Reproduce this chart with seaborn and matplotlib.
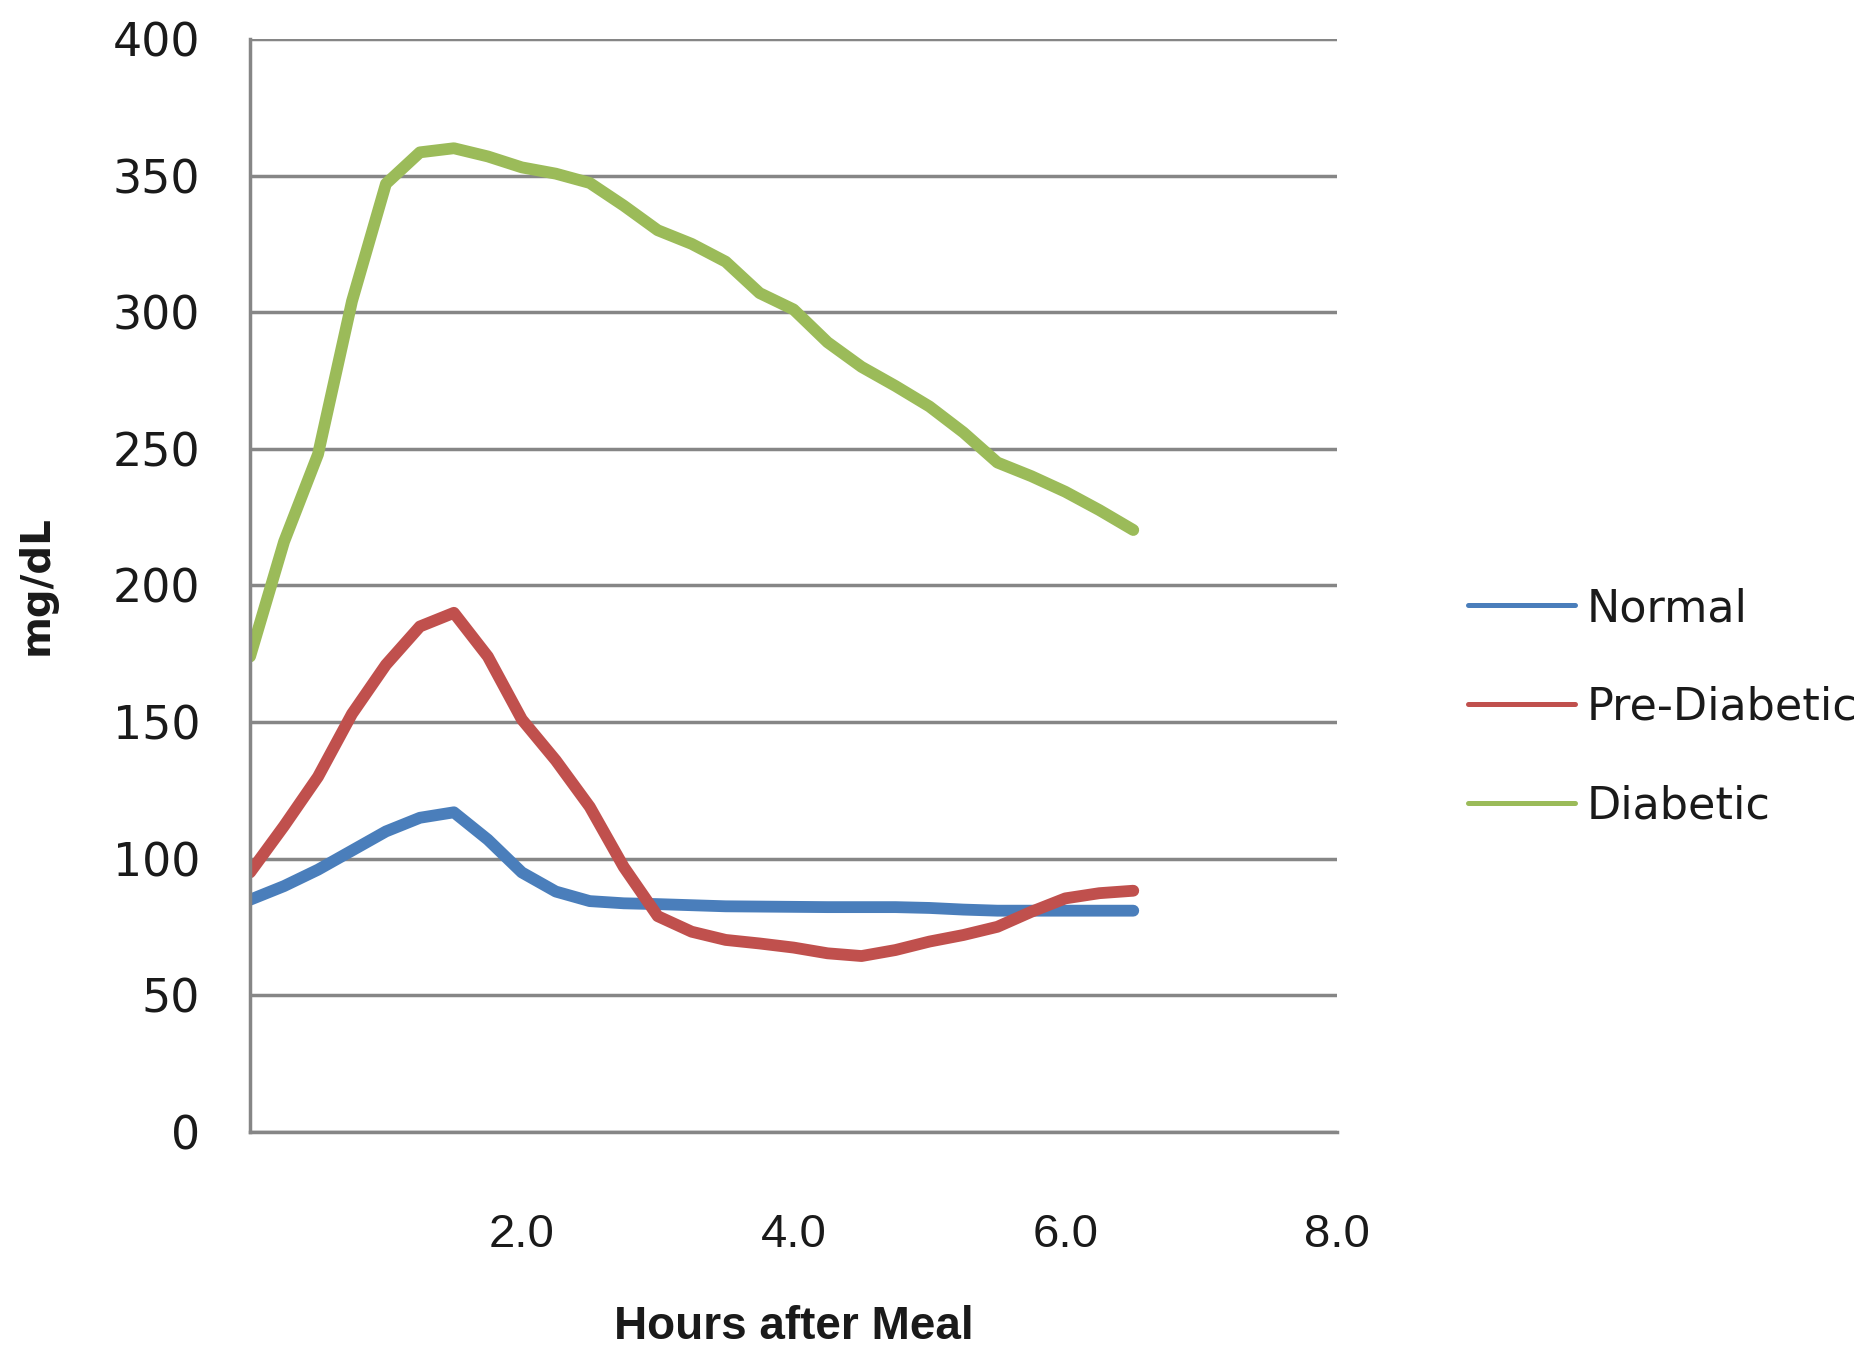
import numpy as np
import pandas as pd
import matplotlib
matplotlib.use("Agg")
import matplotlib.pyplot as plt
import seaborn as sns

# values (mg/dL every quarter hour)
hours = [0.0, 0.25, 0.5, 0.75, 1.0, 1.25, 1.5, 1.75, 2.0, 2.25, 2.5, 2.75, 3.0, 3.25,
         3.5, 3.75, 4.0, 4.25, 4.5, 4.75, 5.0, 5.25, 5.5, 5.75, 6.0, 6.25, 6.5]
normal = [85, 90, 96, 103, 110, 115, 117, 107, 95, 88, 84.5, 83.7, 83.4, 83,
          82.6, 82.5, 82.4, 82.3, 82.3, 82.3, 82, 81.4, 81, 81, 81, 81, 81]
pre_diabetic = [95, 112, 130, 153, 171, 185, 190, 174, 151, 136, 119, 97, 79, 73.3,
                70.3, 69, 67.5, 65.4, 64.4, 66.6, 69.7, 72.1, 75.1, 80.6, 85.5, 87.4, 88.3]
diabetic = [174, 216, 248, 304, 347, 358.5, 360, 357, 353, 350.7, 347.3, 339, 330, 325,
            318.5, 307, 301, 289, 280, 273, 265.5, 256, 245, 240, 234.3, 227.6, 220.3]
groups = ["Normal", "Pre-Diabetic", "Diabetic"]
colors = ["#4A7EBB", "#C0504D", "#9BBB59"]

y_ticks = [0, 50, 100, 150, 200, 250, 300, 350, 400]
x_ticks = [2.0, 4.0, 6.0, 8.0]

df = pd.DataFrame({
    "Hours": hours * 3,
    "mg/dL": normal + pre_diabetic + diabetic,
    "Group": [g for g in groups for _ in hours],
})

sns.set_style("white")
plt.rcParams["font.family"] = ["DejaVu Sans"]
narrow = ["Liberation Sans Narrow", "Liberation Sans", "DejaVu Sans"]

fig = plt.figure(figsize=(18.69, 13.52), dpi=100)
ax = fig.add_axes([0.1338, 0.1627, 0.5816, 0.8085])

sns.lineplot(data=df, x="Hours", y="mg/dL", hue="Group", hue_order=groups,
             palette=colors, linewidth=8.5, ax=ax, sort=False)
for line in ax.get_lines():
    line.set_solid_joinstyle("round")
    line.set_solid_capstyle("round")

ax.set_xlim(0, 8)
ax.set_ylim(0, 400)
ax.set_yticks(y_ticks)
ax.set_xticks(x_ticks)
ax.tick_params(axis="y", labelsize=33, pad=36, length=0, labelcolor="#1a1a1a")
ax.tick_params(axis="x", labelsize=34, pad=58, length=0, labelcolor="#1a1a1a")
ax.set_xticklabels([f"{t:.1f}" for t in x_ticks])
for lab in ax.get_xticklabels():
    lab.set_family(narrow)
    lab.set_fontsize(34)

ax.grid(axis="y", color="#868686", linewidth=2.5)
ax.set_axisbelow(True)
for side in ["top", "right"]:
    ax.spines[side].set_visible(False)
for side in ["left", "bottom"]:
    ax.spines[side].set_color("#868686")
    ax.spines[side].set_linewidth(2.5)

ax.set_xlabel("Hours after Meal", fontsize=33, fontweight="bold",
              family=narrow, labelpad=35, color="#1a1a1a")
ax.set_ylabel("mg/dL", fontsize=29, fontweight="bold", labelpad=40, color="#1a1a1a")

handles, labels = ax.get_legend_handles_labels()
leg = ax.legend(handles, labels, loc="center left", bbox_to_anchor=(0.7855, 0.477),
                bbox_transform=fig.transFigure, frameon=False, fontsize=32,
                handlelength=2.4, handletextpad=0.27, labelspacing=1.25,
                borderpad=0, borderaxespad=0, labelcolor="#1a1a1a")
for line in leg.get_lines():
    line.set_linewidth(3.6)

fig.savefig("out.png", dpi=100, facecolor="white")
